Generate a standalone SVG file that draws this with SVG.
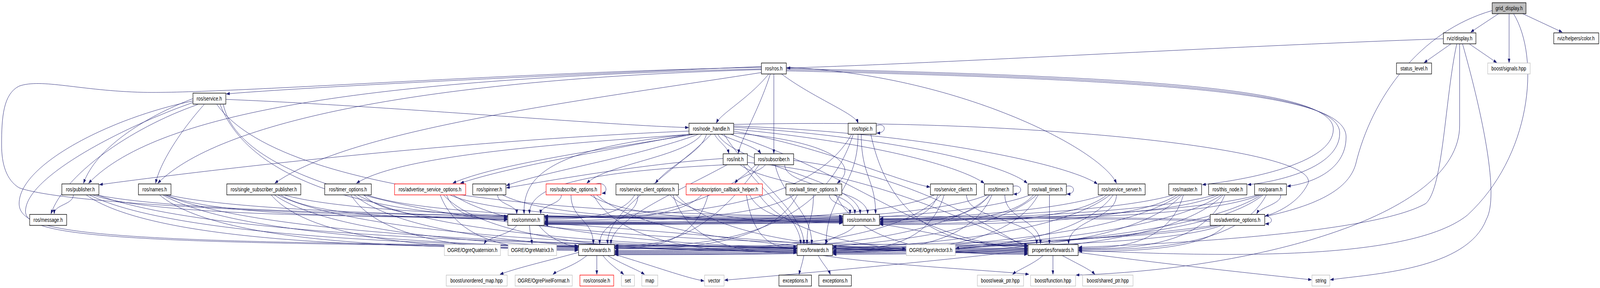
<svg xmlns="http://www.w3.org/2000/svg" width="5016" height="736" viewBox="0 0 5016 736" preserveAspectRatio="none">
<style>
svg{width:100vw;height:100vh}
.n rect{fill:#fff;stroke:#000;stroke-width:1.4}
.g rect{stroke:#bfbfbf}
.r rect{stroke:#f00}
.n text{font-family:"Liberation Sans",Arial,sans-serif;font-size:14px;fill:#000;text-anchor:middle}
#edges path{fill:none;stroke:#191970;stroke-width:1;marker-end:url(#a)}
</style>
<defs>
<marker id="a" markerUnits="userSpaceOnUse" markerWidth="11" markerHeight="8" refX="10" refY="3.5" orient="auto"><path d="M0,0 L10,3.5 L0,7 z" fill="#191970" stroke="#191970"/></marker>
</defs>
<rect width="5016" height="736" fill="#fff"/>
<g id="edges">
<path d="M4700,34 L4611,82"/>
<path d="M4731,35 L4731,160"/>
<path d="M4771,34 L4897,82"/>
<path d="M4678,27 C4450,80 4300,250 4250,420 C4200,560 3800,590 2997,634"/>
<path d="M4745,35 C4830,150 4800,400 4600,550 C4400,680 3700,650 3382,640"/>
<path d="M4549,112 L4465,160"/>
<path d="M4606,112 L4692,160"/>
<path d="M4525,99 C3800,120 3000,160 2467,174"/>
<path d="M4567,112 C4530,250 4525,480 4470,520 C4300,600 3600,625 3382,632"/>
<path d="M4576,112 L4576,320 C4576,560 3900,690 3374,703"/>
<path d="M4585,112 C4650,300 4700,500 4660,560 C4600,690 4300,700 4171,715"/>
<path d="M2387,170 C1800,190 1000,220 710,240"/>
<path d="M2410,189 C2350,250 2260,290 2246,314"/>
<path d="M2450,189 C2550,250 2680,290 2690,314"/>
<path d="M2415,189 C2380,280 2320,360 2315,392"/>
<path d="M2426,189 L2426,392"/>
<path d="M2387,176 C1200,200 500,280 278,468"/>
<path d="M2387,178 C1400,200 700,300 495,468"/>
<path d="M2390,185 C1800,260 1100,330 862,468"/>
<path d="M2465,172 C3000,190 3450,380 3500,468"/>
<path d="M2465,175 C3500,195 4180,220 4180,330 C4180,420 3900,460 3770,472"/>
<path d="M2465,178 C3600,200 4200,230 4200,340 C4200,430 4000,465 3912,472"/>
<path d="M2465,181 C3700,205 4220,240 4220,350 C4220,440 4100,470 4036,476"/>
<path d="M2387,172 C1600,185 700,240 450,236 C250,232 130,200 60,220 C10,240 5,300 5,370 C5,420 20,460 60,480 C200,520 800,540 1590,562"/>
<path d="M708,254 C1200,270 1900,320 2158,326"/>
<path d="M620,267 C400,330 200,450 160,546"/>
<path d="M605,252 C450,300 300,380 262,468"/>
<path d="M640,267 C560,340 500,420 488,468"/>
<path d="M690,267 C800,500 1300,552 1590,552"/>
<path d="M680,267 C900,520 2000,552 2641,552"/>
<path d="M605,258 C350,300 60,420 60,520 C60,600 300,620 1812,628"/>
<path d="M605,262 C400,320 80,450 80,540 C80,610 400,630 2497,630"/>
<path d="M700,267 C800,640 2700,626 3221,626"/>
<path d="M2160,335 C1400,360 600,440 312,472"/>
<path d="M2170,343 C1700,370 1250,400 1118,468"/>
<path d="M2180,343 C1900,380 1550,420 1420,468"/>
<path d="M2175,341 C1900,385 1600,425 1444,468"/>
<path d="M2190,343 C2000,400 1700,440 1588,474"/>
<path d="M2200,343 C2150,400 1900,420 1840,468"/>
<path d="M2215,343 C2200,390 2100,420 2055,468"/>
<path d="M2260,343 C2300,360 2370,375 2385,392"/>
<path d="M2240,343 C2250,360 2280,375 2285,392"/>
<path d="M2300,340 C2600,360 2700,420 2625,468"/>
<path d="M2300,335 C2600,380 2800,460 2915,478"/>
<path d="M2300,330 C2700,360 3000,420 3085,468"/>
<path d="M2300,325 C2800,350 3150,420 3220,468"/>
<path d="M2300,322 C2900,340 3350,420 3440,470"/>
<path d="M2300,318 C3200,300 4150,380 4100,470 C4070,520 4000,545 3967,552"/>
<path d="M2170,343 C1700,380 1640,460 1643,546"/>
<path d="M2250,343 C2300,420 2690,460 2697,546"/>
<path d="M2230,343 C2100,450 1900,540 1905,623"/>
<path d="M2270,343 C2350,450 2520,540 2520,623"/>
<path d="M2290,343 C2700,450 2900,630 3221,630"/>
<path d="M2747,322 C2775,310 2785,340 2749,340"/>
<path d="M2700,343 C2700,450 2745,460 2745,546"/>
<path d="M2670,343 C2525,555 1995,555 1708,555"/>
<path d="M2675,343 C2563,630 2151,630 1928,630"/>
<path d="M2690,343 C2690,480 2590,500 2590,623"/>
<path d="M2730,343 C2804,628 3075,628 3221,628"/>
<path d="M2275,421 C1800,440 1660,480 1660,546"/>
<path d="M2320,421 C2400,470 2680,480 2680,546"/>
<path d="M2280,421 C2100,500 1920,560 1915,623"/>
<path d="M2330,421 C2400,500 2510,560 2510,623"/>
<path d="M2343,415 C2800,450 3100,600 3221,626"/>
<path d="M2267,405 C2000,420 1700,465 1588,480"/>
<path d="M2400,421 C2380,440 2320,450 2304,468"/>
<path d="M2370,421 C2200,557 1900,557 1708,557"/>
<path d="M2460,421 C2460,480 2720,480 2720,546"/>
<path d="M2380,421 C2200,628 2050,628 1928,628"/>
<path d="M2430,421 C2450,500 2545,540 2545,623"/>
<path d="M2488,410 C2900,450 3150,610 3221,632"/>
<path d="M230,498 C230,523 170,523 170,546"/>
<path d="M290,498 C485,554 1201,554 1590,554"/>
<path d="M300,498 C651,556 1940,556 2641,556"/>
<path d="M270,498 C502,632 1351,632 1812,632"/>
<path d="M280,498 C613,634 1833,634 2497,634"/>
<path d="M305,498 C743,634 2348,634 3221,634"/>
<path d="M520,498 C681,556 1270,556 1590,556"/>
<path d="M525,498 C843,558 2008,558 2641,558"/>
<path d="M500,498 C697,634 1420,634 1812,634"/>
<path d="M510,498 C808,636 1902,636 2497,636"/>
<path d="M515,498 C921,636 2411,636 3221,636"/>
<path d="M880,498 C987,558 1378,558 1590,558"/>
<path d="M890,498 C1153,560 2117,560 2641,560"/>
<path d="M850,498 C995,636 1525,636 1812,636"/>
<path d="M860,498 C1106,638 2007,638 2497,638"/>
<path d="M870,498 C1223,638 2517,638 3221,638"/>
<path d="M1140,498 C1208,560 1456,560 1590,560"/>
<path d="M1150,498 C1374,562 2195,562 2641,562"/>
<path d="M1100,498 C1207,638 1600,638 1812,638"/>
<path d="M1110,498 C1318,640 2082,640 2497,640"/>
<path d="M1120,498 C1435,640 2592,640 3221,640"/>
<path d="M1400,498 C1429,562 1534,562 1590,562"/>
<path d="M1410,498 C1595,564 2273,564 2641,564"/>
<path d="M1380,498 C1445,640 1684,640 1812,640"/>
<path d="M1390,498 C1556,642 2166,642 2497,642"/>
<path d="M1420,498 C1690,642 2682,642 3221,642"/>
<path d="M1560,498 C1560,523 1620,523 1620,546"/>
<path d="M1575,498 C1735,566 2323,566 2641,566"/>
<path d="M1760,498 C1760,523 1695,523 1695,546"/>
<path d="M1850,498 C1969,566 2405,566 2641,566"/>
<path d="M1790,498 C1790,561 1860,561 1860,623"/>
<path d="M1860,498 C1956,644 2307,644 2497,644"/>
<path d="M1870,498 C2073,644 2817,644 3221,644"/>
<path d="M1868,470 C1900,462 1910,492 1888,494"/>
<path d="M1990,498 C1947,560 1791,560 1708,560"/>
<path d="M2100,498 C2181,568 2480,568 2641,568"/>
<path d="M2000,498 C2000,561 1880,561 1880,623"/>
<path d="M2110,498 C2168,646 2382,646 2497,646"/>
<path d="M2120,498 C2285,646 2892,646 3221,646"/>
<path d="M2200,498 C2126,564 1854,564 1708,564"/>
<path d="M2350,498 C2394,570 2555,570 2641,570"/>
<path d="M2220,498 C2176,634 2014,634 1928,634"/>
<path d="M2340,498 C2364,634 2451,634 2497,634"/>
<path d="M2380,498 C2506,648 2970,648 3221,648"/>
<path d="M2490,498 C2372,566 1941,566 1708,566"/>
<path d="M2600,498 C2600,523 2665,523 2665,546"/>
<path d="M2500,498 C2414,636 2098,636 1928,636"/>
<path d="M2550,498 C2550,561 2530,561 2530,623"/>
<path d="M2620,498 C2710,650 3042,650 3221,650"/>
<path d="M2930,498 C2746,568 2073,568 1708,568"/>
<path d="M2940,498 C2913,566 2812,566 2759,566"/>
<path d="M2950,498 C2796,640 2233,640 1928,640"/>
<path d="M2960,498 C2908,640 2715,640 2612,640"/>
<path d="M3030,498 C3030,561 3250,561 3250,623"/>
<path d="M3095,498 C2887,570 2123,570 1708,570"/>
<path d="M3100,498 C3049,568 2860,568 2759,568"/>
<path d="M3105,498 C2928,642 2280,642 1928,642"/>
<path d="M3110,498 C3035,642 2760,642 2612,642"/>
<path d="M3150,498 C3150,561 3262,561 3262,623"/>
<path d="M3176,476 C3205,470 3210,496 3178,496"/>
<path d="M3230,498 C3001,572 2163,572 1708,572"/>
<path d="M3240,498 C3168,570 2902,570 2759,570"/>
<path d="M3250,498 C3051,644 2323,644 1928,644"/>
<path d="M3255,498 C3158,644 2804,644 2612,644"/>
<path d="M3290,498 C3290,561 3290,561 3290,623"/>
<path d="M3343,476 C3370,470 3375,496 3345,496"/>
<path d="M3460,498 C3197,574 2232,574 1708,574"/>
<path d="M3470,498 C3363,572 2971,572 2759,572"/>
<path d="M3480,498 C3247,646 2392,646 1928,646"/>
<path d="M3490,498 C3358,646 2874,646 2612,646"/>
<path d="M3500,498 C3500,561 3350,561 3350,623"/>
<path d="M3680,498 C3384,569 2298,569 1708,569"/>
<path d="M3690,498 C3550,574 3037,574 2759,574"/>
<path d="M3700,498 C3434,648 2458,648 1928,648"/>
<path d="M3705,498 C3541,648 2939,648 2612,648"/>
<path d="M3710,498 C3661,634 3479,634 3382,634"/>
<path d="M3810,498 C3494,571 2337,571 1708,571"/>
<path d="M3820,498 C3661,560 3076,560 2759,560"/>
<path d="M3830,498 C3544,650 2497,650 1928,650"/>
<path d="M3835,498 C3651,650 2978,650 2612,650"/>
<path d="M3840,498 C3771,636 3518,636 3382,636"/>
<path d="M3945,498 C3609,573 2378,573 1708,573"/>
<path d="M3950,498 C3771,562 3115,562 2759,562"/>
<path d="M3955,498 C3651,651 2535,651 1928,651"/>
<path d="M3960,498 C3758,630 3015,630 2612,630"/>
<path d="M3970,498 C3882,638 3557,638 3382,638"/>
<path d="M4015,498 C4020,520 3950,530 3940,546"/>
<path d="M3794,562 C3481,552 2332,552 1708,552"/>
<path d="M3794,566 C3638,558 3068,558 2759,558"/>
<path d="M3820,576 C3536,628 2494,628 1928,628"/>
<path d="M3830,576 C3647,632 2976,632 2612,632"/>
<path d="M3840,576 C3771,642 3518,642 3382,642"/>
<path d="M3965,552 C3990,552 3995,572 3967,572"/>
<path d="M1620,576 C1600,600 1530,605 1518,623"/>
<path d="M1660,576 C1662,600 1666,610 1668,623"/>
<path d="M1690,576 C1720,610 1780,628 1812,632"/>
<path d="M1706,570 C2100,590 2600,634 2839,636"/>
<path d="M2680,576 C2660,600 2600,605 2587,623"/>
<path d="M2757,572 C2900,590 3100,630 3221,636"/>
<path d="M1814,645 C1700,670 1620,685 1568,701"/>
<path d="M1840,653 C1800,680 1750,690 1734,701"/>
<path d="M1871,653 L1871,701"/>
<path d="M1890,653 C1910,675 1940,690 1955,701"/>
<path d="M1905,653 C1950,675 2000,690 2020,701"/>
<path d="M1926,650 C2050,680 2150,710 2207,718"/>
<path d="M2520,653 C2515,675 2508,690 2505,701"/>
<path d="M2565,653 C2580,675 2598,690 2603,701"/>
<path d="M2580,653 C2800,680 3100,690 3225,701"/>
<path d="M3223,640 C2900,670 2500,700 2272,716"/>
<path d="M3270,653 C3240,675 3190,690 3175,701"/>
<path d="M3301,653 L3301,701"/>
<path d="M3330,653 C3380,675 3420,690 3432,701"/>
<path d="M3380,645 C3700,680 4000,705 4111,715"/>
</g>
<g id="grid_display" class="n"><rect x="4678" y="7" width="106" height="28" style="fill:#bfbfbf"/><text x="4731" y="26">grid_display.h</text></g>
<g id="rviz_display" class="n"><rect x="4525" y="84" width="102" height="28"/><text x="4576" y="103">rviz/display.h</text></g>
<g id="rviz_color" class="n"><rect x="4871" y="84" width="141" height="28"/><text x="4941" y="103">rviz/helpers/color.h</text></g>
<g id="ros_ros" class="n"><rect x="2387" y="161" width="78" height="28"/><text x="2426" y="180">ros/ros.h</text></g>
<g id="status_level" class="n"><rect x="4378" y="161" width="110" height="28"/><text x="4433" y="180">status_level.h</text></g>
<g id="boost_signals" class="n g"><rect x="4664" y="161" width="133" height="28"/><text x="4730" y="180">boost/signals.hpp</text></g>
<g id="ros_service" class="n"><rect x="605" y="238" width="103" height="28"/><text x="656" y="257">ros/service.h</text></g>
<g id="ros_node_handle" class="n"><rect x="2160" y="315" width="140" height="28"/><text x="2230" y="334">ros/node_handle.h</text></g>
<g id="ros_topic" class="n"><rect x="2659" y="315" width="88" height="28"/><text x="2703" y="334">ros/topic.h</text></g>
<g id="ros_init" class="n"><rect x="2267" y="393" width="76" height="28"/><text x="2305" y="412">ros/init.h</text></g>
<g id="ros_subscriber" class="n"><rect x="2365" y="393" width="123" height="28"/><text x="2426" y="412">ros/subscriber.h</text></g>
<g id="ros_publisher" class="n"><rect x="194" y="470" width="116" height="28"/><text x="252" y="489">ros/publisher.h</text></g>
<g id="ros_names" class="n"><rect x="434" y="470" width="102" height="28"/><text x="485" y="489">ros/names.h</text></g>
<g id="ros_ssp" class="n"><rect x="711" y="470" width="232" height="28"/><text x="827" y="489">ros/single_subscriber_publisher.h</text></g>
<g id="ros_timer_options" class="n"><rect x="1018" y="470" width="146" height="28"/><text x="1091" y="489">ros/timer_options.h</text></g>
<g id="ros_aso" class="n r"><rect x="1237" y="470" width="223" height="28"/><text x="1348" y="489">ros/advertise_service_options.h</text></g>
<g id="ros_spinner" class="n"><rect x="1482" y="470" width="104" height="28"/><text x="1534" y="489">ros/spinner.h</text></g>
<g id="ros_subscribe_options" class="n r"><rect x="1712" y="470" width="172" height="28"/><text x="1798" y="489">ros/subscribe_options.h</text></g>
<g id="ros_sco" class="n"><rect x="1931" y="470" width="196" height="28"/><text x="2029" y="489">ros/service_client_options.h</text></g>
<g id="ros_sch" class="n r"><rect x="2151" y="470" width="239" height="28"/><text x="2270" y="489">ros/subscription_callback_helper.h</text></g>
<g id="ros_wto" class="n"><rect x="2464" y="470" width="175" height="28"/><text x="2551" y="489">ros/wall_timer_options.h</text></g>
<g id="ros_service_client" class="n"><rect x="2917" y="470" width="144" height="28"/><text x="2989" y="489">ros/service_client.h</text></g>
<g id="ros_timer" class="n"><rect x="3086" y="470" width="90" height="28"/><text x="3131" y="489">ros/timer.h</text></g>
<g id="ros_wall_timer" class="n"><rect x="3223" y="470" width="120" height="28"/><text x="3283" y="489">ros/wall_timer.h</text></g>
<g id="ros_service_server" class="n"><rect x="3443" y="470" width="147" height="28"/><text x="3516" y="489">ros/service_server.h</text></g>
<g id="ros_master" class="n"><rect x="3664" y="470" width="103" height="28"/><text x="3715" y="489">ros/master.h</text></g>
<g id="ros_this_node" class="n"><rect x="3789" y="470" width="120" height="28"/><text x="3849" y="489">ros/this_node.h</text></g>
<g id="ros_param" class="n"><rect x="3933" y="470" width="100" height="28"/><text x="3983" y="489">ros/param.h</text></g>
<g id="ros_message" class="n"><rect x="93" y="548" width="116" height="28"/><text x="151" y="567">ros/message.h</text></g>
<g id="ros_common_1" class="n"><rect x="1592" y="548" width="114" height="28"/><text x="1649" y="567">ros/common.h</text></g>
<g id="ros_common_2" class="n"><rect x="2643" y="548" width="114" height="28"/><text x="2700" y="567">ros/common.h</text></g>
<g id="ros_advertise_options" class="n"><rect x="3794" y="548" width="171" height="28"/><text x="3879" y="567">ros/advertise_options.h</text></g>
<g id="ogre_quaternion" class="n g"><rect x="1393" y="625" width="176" height="28"/><text x="1481" y="644">OGRE/OgreQuaternion.h</text></g>
<g id="ogre_matrix3" class="n g"><rect x="1593" y="625" width="152" height="28"/><text x="1669" y="644">OGRE/OgreMatrix3.h</text></g>
<g id="ros_forwards_1" class="n"><rect x="1814" y="625" width="112" height="28"/><text x="1870" y="644">ros/forwards.h</text></g>
<g id="ros_forwards_2" class="n"><rect x="2499" y="625" width="111" height="28"/><text x="2554" y="644">ros/forwards.h</text></g>
<g id="ogre_vector3" class="n g"><rect x="2841" y="625" width="154" height="28"/><text x="2918" y="644">OGRE/OgreVector3.h</text></g>
<g id="properties_forwards" class="n"><rect x="3223" y="625" width="157" height="28"/><text x="3301" y="644">properties/forwards.h</text></g>
<g id="boost_unordered_map" class="n g"><rect x="1399" y="703" width="191" height="28"/><text x="1494" y="722">boost/unordered_map.hpp</text></g>
<g id="ogre_pixelformat" class="n g"><rect x="1615" y="703" width="179" height="28"/><text x="1704" y="722">OGRE/OgrePixelFormat.h</text></g>
<g id="ros_console" class="n r"><rect x="1818" y="703" width="106" height="28"/><text x="1871" y="722">ros/console.h</text></g>
<g id="set" class="n g"><rect x="1948" y="703" width="41" height="28"/><text x="1968" y="722">set</text></g>
<g id="map" class="n g"><rect x="2012" y="703" width="50" height="28"/><text x="2037" y="722">map</text></g>
<g id="vector" class="n g"><rect x="2209" y="703" width="61" height="28"/><text x="2239" y="722">vector</text></g>
<g id="exceptions_1" class="n"><rect x="2442" y="703" width="102" height="28"/><text x="2493" y="722">exceptions.h</text></g>
<g id="exceptions_2" class="n"><rect x="2567" y="703" width="102" height="28"/><text x="2618" y="722">exceptions.h</text></g>
<g id="boost_weak_ptr" class="n g"><rect x="3064" y="703" width="145" height="28"/><text x="3136" y="722">boost/weak_ptr.hpp</text></g>
<g id="boost_function" class="n g"><rect x="3231" y="703" width="141" height="28"/><text x="3301" y="722">boost/function.hpp</text></g>
<g id="boost_shared_ptr" class="n g"><rect x="3394" y="703" width="158" height="28"/><text x="3473" y="722">boost/shared_ptr.hpp</text></g>
<g id="string" class="n g"><rect x="4113" y="703" width="56" height="28"/><text x="4141" y="722">string</text></g>
</svg>
